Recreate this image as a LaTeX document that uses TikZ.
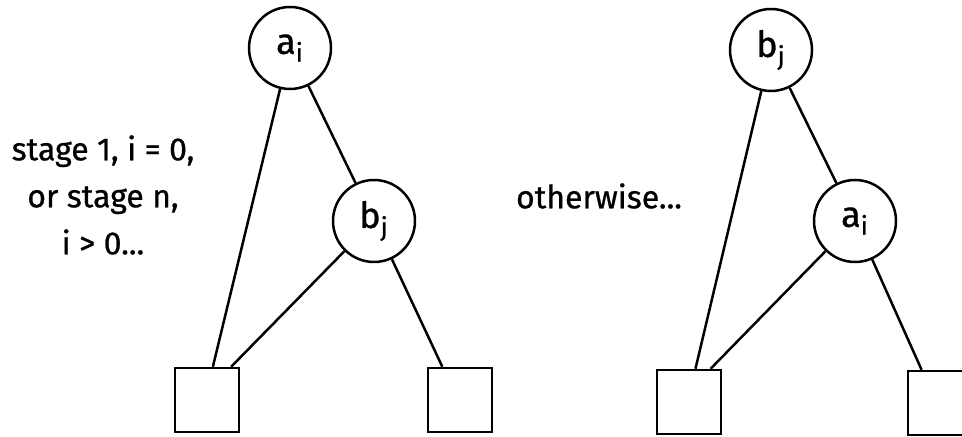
\documentclass[tikz,border=0pt]{standalone}
\usepackage{fontspec}
\setmainfont{Fira Sans}[FakeBold=0.8]

\tikzset{
  key/.style={draw, circle, minimum size=41pt, inner sep=0pt,
    font=\fontsize{18}{20}\selectfont},
  leaf/.style={draw, rectangle, minimum size=32pt, inner sep=0pt},
  note/.style={align=center, font=\fontsize{16}{23.5}\selectfont}
}

\begin{document}
\begin{tikzpicture}[x=0.5pt, y=-0.5pt, line width=1.25pt]
    \useasboundingbox (0,0) rectangle (962,437);

    % a_i above b_j
    \node[note] (first) at (103,195) {stage 1, i = 0,\\ or stage n,\\ i > 0...};
    \node[key] (ai1) at (290,48) {a\textsubscript{i}};
    \node[key] (bj1) at (374,221) {b\textsubscript{j}};
    \node[leaf] (l1) at (207,400) {};
    \node[leaf] (r1) at (460,400) {};
    \draw (ai1) -- (l1.80);
    \draw (ai1) -- (bj1);
    \draw (bj1) -- (l1.54);
    \draw (bj1) -- (r1.118);

    % b_j above a_i
    \node[note] (second) at (599,196) {otherwise...};
    \node[key] (bj2) at (771,50) {b\textsubscript{j}};
    \node[key] (ai2) at (855,221) {a\textsubscript{i}};
    \node[leaf] (l2) at (689,402) {};
    \node[leaf] (r2) at (940,403) {};
    \draw (bj2) -- (l2.79);
    \draw (bj2) -- (ai2);
    \draw (ai2) -- (l2.57);
    \draw (ai2) -- (r2.119);
\end{tikzpicture}
\end{document}
